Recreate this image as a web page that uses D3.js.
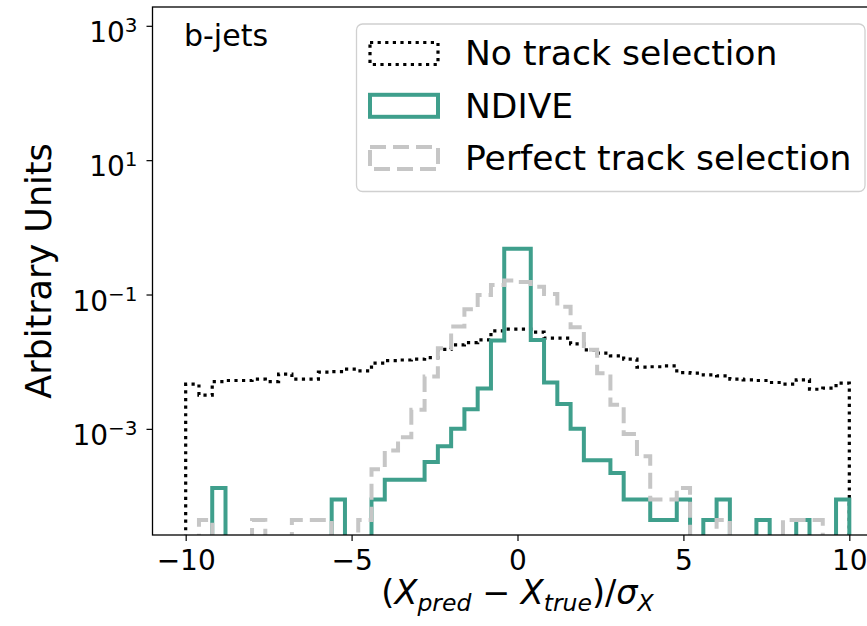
<!DOCTYPE html>
<html>
<head>
<meta charset="utf-8">
<script src="https://cdn.jsdelivr.net/npm/d3@7"></script>
<style>
  body { margin: 0; background: #fff; }
  svg text { font-family: "DejaVu Sans", sans-serif; fill: #000; }
</style>
</head>
<body>
<div id="chart"></div>
<script>
// 50 bins of width 0.4 between -10 and 10
var binLo = -10, binHi = 10, nBins = 50;

// normalised bin contents (0 = empty bin)
var noSelection = [
  4.62e-3, 3.18e-3, 5.06e-3, 5.25e-3, 5.25e-3, 5.5e-3, 5.06e-3, 6.52e-3, 5.5e-3, 5.5e-3,
  6.98e-3, 7.13e-3, 7.76e-3, 7.29e-3, 9.5e-3, 1.04e-2, 1.06e-2, 1.09e-2, 1.15e-2, 1.53e-2,
  1.78e-2, 1.92e-2, 2.11e-2, 2.87e-2, 3.05e-2, 3.05e-2, 2.75e-2, 2.24e-2, 2.24e-2, 1.84e-2,
  1.5e-2, 1.34e-2, 1.22e-2, 1.09e-2, 8.28e-3, 8.41e-3, 8.65e-3, 6.89e-3, 6.76e-3, 6.37e-3,
  6.17e-3, 5.5e-3, 5.37e-3, 5.25e-3, 4.9e-3, 4.62e-3, 5.37e-3, 3.89e-3, 4.03e-3, 4.79e-3
];
var ndive = [
  0, 0, 1.32e-4, 0, 0, 0, 0, 0, 0, 0,
  0, 8.9e-5, 0, 0, 8.9e-5, 1.75e-4, 1.75e-4, 1.75e-4, 3.2e-4, 5.5e-4,
  1.0e-3, 1.96e-3, 4.0e-3, 2.06e-2, 0.478, 0.478, 2.11e-2, 4.9e-3, 2.35e-3, 1.0e-3,
  3.4e-4, 3.4e-4, 2.2e-4, 8.9e-5, 8.9e-5, 4.4e-5, 4.4e-5, 8.9e-5, 0, 4.4e-5,
  8.9e-5, 0, 0, 4.4e-5, 0, 0, 4.4e-5, 0, 0, 8.9e-5
];
var perfect = [
  0, 4.4e-5, 0, 0, 0, 4.4e-5, 0, 0, 4.4e-5, 4.4e-5,
  4.4e-5, 0, 0, 4.4e-5, 2.5e-4, 4.75e-4, 7.5e-4, 1.92e-3, 6.0e-3, 1.58e-2,
  3.33e-2, 6.04e-2, 9.86e-2, 0.139, 0.161, 0.153, 0.131, 0.102, 6.6e-2, 3.26e-2,
  1.5e-2, 6.7e-3, 2.28e-3, 8.4e-4, 3.9e-4, 8.9e-5, 8.9e-5, 1.32e-4, 0, 0,
  4.4e-5, 0, 0, 0, 0, 4.4e-5, 4.4e-5, 4.4e-5, 0, 0
];

var seriesNames = ["No track selection", "NDIVE", "Perfect track selection"];
var xTicks = [-10, -5, 0, 5, 10];
var yTicks = [1e-3, 1e-1, 1e1, 1e3];

var W = 867, H = 626;
var plot = {left: 152.5, right: 882.5, top: 7, bottom: 535}; // right spine falls outside the picture

var teal = "#3f9f8c", grey = "#c6c6c6";
var styles = [
  {stroke: "#000", width: 3.2, dash: "3.2 4.4"},
  {stroke: teal, width: 4, dash: null},
  {stroke: grey, width: 4, dash: "16 7"}
];

var svg = d3.select("#chart").append("svg")
    .attr("width", W)
    .attr("height", H);

var x = d3.scaleLinear().domain([-11, 11]).range([plot.left, plot.right]);
var y = d3.scaleLog().domain([Math.pow(10, -4.58), Math.pow(10, 3.28)]).range([plot.bottom, plot.top]);

svg.append("clipPath").attr("id", "clip")
  .append("rect")
    .attr("x", plot.left).attr("y", plot.top)
    .attr("width", plot.right - plot.left).attr("height", plot.bottom - plot.top);

// step outline of a histogram, empty bins drop below the axis
var floorVal = 1e-7;
var bw = (binHi - binLo) / nBins;
function stepPoints(vals) {
    var pts = [[binLo, floorVal]];
    vals.forEach(function(v, i) {
        var x0 = binLo + i * bw, x1 = binLo + (i + 1) * bw;
        var yv = v > 0 ? v : floorVal;
        pts.push([x0, yv], [x1, yv]);
    });
    pts.push([binHi, floorVal]);
    return pts;
}

var line = d3.line()
    .x(function(d) { return x(d[0]); })
    .y(function(d) { return y(d[1]); });

var hists = svg.append("g").attr("clip-path", "url(#clip)");
[noSelection, ndive, perfect].forEach(function(vals, k) {
    hists.append("path")
        .attr("d", line(stepPoints(vals)))
        .attr("fill", "none")
        .attr("stroke", styles[k].stroke)
        .attr("stroke-width", styles[k].width)
        .attr("stroke-dasharray", styles[k].dash)
        .attr("stroke-linejoin", "miter");
});

// axes
var xAxis = svg.append("g")
    .attr("transform", "translate(0," + plot.bottom + ")")
    .call(d3.axisBottom(x).tickValues(xTicks).tickSize(6).tickPadding(9).tickFormat(d3.format("d")));
xAxis.select(".domain").remove();
xAxis.selectAll(".tick text").attr("font-size", 28).attr("font-family", "DejaVu Sans");
xAxis.selectAll(".tick line").attr("stroke", "#000").attr("stroke-width", 1.2);

var yAxis = svg.append("g")
    .attr("transform", "translate(" + plot.left + ",0)")
    .call(d3.axisLeft(y).tickValues(yTicks).tickSize(6).tickPadding(9));
yAxis.select(".domain").remove();
yAxis.selectAll(".tick line").attr("stroke", "#000").attr("stroke-width", 1.2);
yAxis.selectAll(".tick text")
    .attr("font-size", 28)
    .attr("font-family", "DejaVu Sans")
    .attr("dy", "0.56em")
    .each(function(d) {
        var t = d3.select(this).text(null);
        var e = Math.round(Math.log10(d));
        t.append("tspan").text("10");
        t.append("tspan").attr("dy", -10).attr("font-size", 20)
            .text(e < 0 ? "\u2212" + (-e) : String(e));
    });

// spines
svg.append("rect")
    .attr("x", plot.left).attr("y", plot.top)
    .attr("width", plot.right - plot.left).attr("height", plot.bottom - plot.top)
    .attr("fill", "none").attr("stroke", "#000").attr("stroke-width", 1.3);

// axis labels
var xl = svg.append("text")
    .attr("x", x(0)).attr("y", 604)
    .attr("text-anchor", "middle")
    .attr("font-size", 33.5);
var parts = [
    ["(", "n"], ["X", "i"], ["pred", "s"], [" \u2212 ", "n"], ["X", "i"], ["true", "s"],
    [")/", "n"], ["\u03c3", "i"], ["X", "s"]
];
var lastSub = false;
parts.forEach(function(p) {
    var ts = xl.append("tspan").text(p[0]);
    if (p[1] !== "n") ts.attr("font-style", "italic");
    if (p[1] === "s") {
        ts.attr("font-size", 23.5).attr("dy", 7);
        lastSub = true;
    } else if (lastSub) {
        ts.attr("dy", -7);
        lastSub = false;
    }
});

svg.append("text")
    .attr("transform", "translate(51," + ((plot.top + plot.bottom) / 2) + ") rotate(-90)")
    .attr("text-anchor", "middle")
    .attr("font-size", 35)
    .text("Arbitrary Units");

svg.append("text")
    .attr("x", 184).attr("y", 46)
    .attr("font-size", 30)
    .text("b-jets");

// legend
var leg = svg.append("g");
leg.append("rect")
    .attr("x", 356.5).attr("y", 24)
    .attr("width", 508.5).attr("height", 167.5)
    .attr("rx", 6)
    .attr("fill", "#fff").attr("fill-opacity", 0.8)
    .attr("stroke", "#d0d0d0").attr("stroke-width", 1.3);

seriesNames.forEach(function(name, k) {
    leg.append("rect")
        .attr("x", 370).attr("y", 42.5 + k * 52.3)
        .attr("width", 68).attr("height", 22)
        .attr("fill", "none")
        .attr("stroke", styles[k].stroke)
        .attr("stroke-width", styles[k].width)
        .attr("stroke-dasharray", styles[k].dash);
    leg.append("text")
        .attr("x", 465).attr("y", 65 + k * 52.5)
        .attr("font-size", 34.6)
        .text(name);
});
</script>
</body>
</html>
